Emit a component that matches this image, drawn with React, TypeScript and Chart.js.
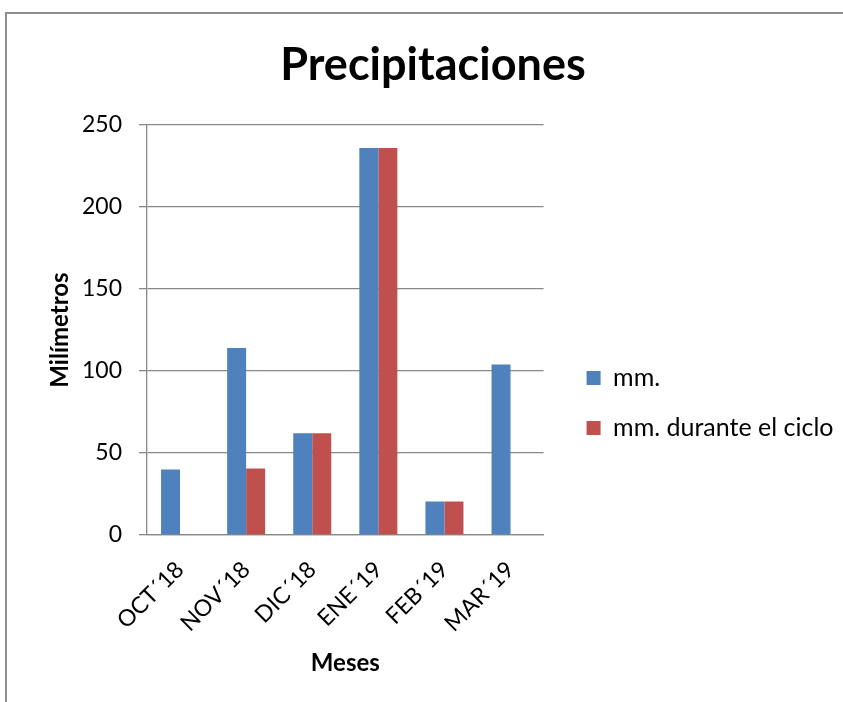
import { useEffect, useRef } from "react";
import { Chart, registerables } from "chart.js";

Chart.register(...registerables);

const categories = ["OCT´18", "NOV´18", "DIC´18", "ENE´19", "FEB´19", "MAR´19"];
const seriesLabels = ["mm.", "mm. durante el ciclo"];
const mmValues = [40, 114, 62, 236, 20.5, 104];
const cycleValues: (number | null)[] = [null, 40.5, 62, 236, 20.5, null];
const yTicks = [0, 50, 100, 150, 200, 250];

const W = 852;
const H = 778;
const GRID = "#898989";

export default function App() {
  const ref = useRef<HTMLCanvasElement | null>(null);

  useEffect(() => {
    if (!ref.current) return;
    Chart.defaults.font.family = "Lato";
    const chart = new Chart(ref.current, {
      type: "bar",
      data: {
        labels: categories,
        datasets: [
          {
            label: seriesLabels[0],
            data: mmValues,
            backgroundColor: "#4F81BD",
            categoryPercentage: 0.575,
            barPercentage: 1,
          },
          {
            label: seriesLabels[1],
            data: cycleValues,
            backgroundColor: "#C0504D",
            categoryPercentage: 0.575,
            barPercentage: 1,
          },
        ],
      },
      options: {
        animation: false,
        responsive: false,
        devicePixelRatio: 1,
        layout: { padding: { left: 15.5, right: 15.5, top: 0, bottom: 0 } },
        plugins: {
          title: {
            display: true,
            text: "Precipitaciones",
            color: "#000",
            font: { size: 45, weight: "bold", family: "Lato" },
            padding: { top: 24, bottom: 33 },
          },
          legend: {
            position: "right",
            maxWidth: 1000,
            labels: {
              boxWidth: 14,
              boxHeight: 14,
              padding: 25,
              color: "#000",
              font: { size: 25, family: "Lato" },
            },
          },
          tooltip: { enabled: false },
        },
        scales: {
          x: {
            grid: { display: false, drawTicks: false },
            border: { display: true, color: GRID, width: 1.3 },
            ticks: {
              color: "#000",
              font: { size: 23, family: "Lato" },
              minRotation: 45,
              maxRotation: 45,
              padding: 21,
            },
            title: {
              display: true,
              text: "Meses",
              color: "#000",
              font: { size: 24, weight: "bold", family: "Lato" },
              padding: { top: 0, bottom: 114.6 },
            },
            afterFit: (s: any) => {
              s.height = H - 521;
            },
          },
          y: {
            min: yTicks[0],
            max: yTicks[yTicks.length - 1],
            grid: { color: GRID, lineWidth: 1.3, tickLength: 8, drawTicks: true },
            border: { display: true, color: GRID, width: 1.3 },
            ticks: {
              stepSize: yTicks[1] - yTicks[0],
              color: "#000",
              font: { size: 23, family: "Lato" },
              padding: 17,
            },
            title: {
              display: true,
              text: "Milímetros",
              color: "#000",
              font: { size: 24, weight: "bold", family: "Lato" },
              padding: { top: 23.1, bottom: 0 },
            },
            afterFit: (s: any) => {
              s.width = 124.5;
            },
          },
          gap: {
            type: "linear",
            position: "right",
            display: true,
            grid: { display: false },
            border: { display: false },
            ticks: { display: false },
            afterFit: (s: any) => {
              s.width = 18;
            },
          },
        },
      },
    });
    return () => chart.destroy();
  }, []);

  return (
    <div
      style={{
        position: "fixed",
        left: 0,
        top: 0,
        width: 843,
        height: 702,
        overflow: "hidden",
        background: "#fff",
      }}
    >
      <div
        style={{
          position: "absolute",
          left: 5,
          top: 12,
          width: 2000,
          height: 2000,
          borderLeft: "2px solid #8e8e8e",
          borderTop: "2px solid #8e8e8e",
        }}
      />
      <canvas
        ref={ref}
        width={W}
        height={H}
        style={{ position: "absolute", left: 7, top: 14, width: W, height: H }}
      />
    </div>
  );
}
